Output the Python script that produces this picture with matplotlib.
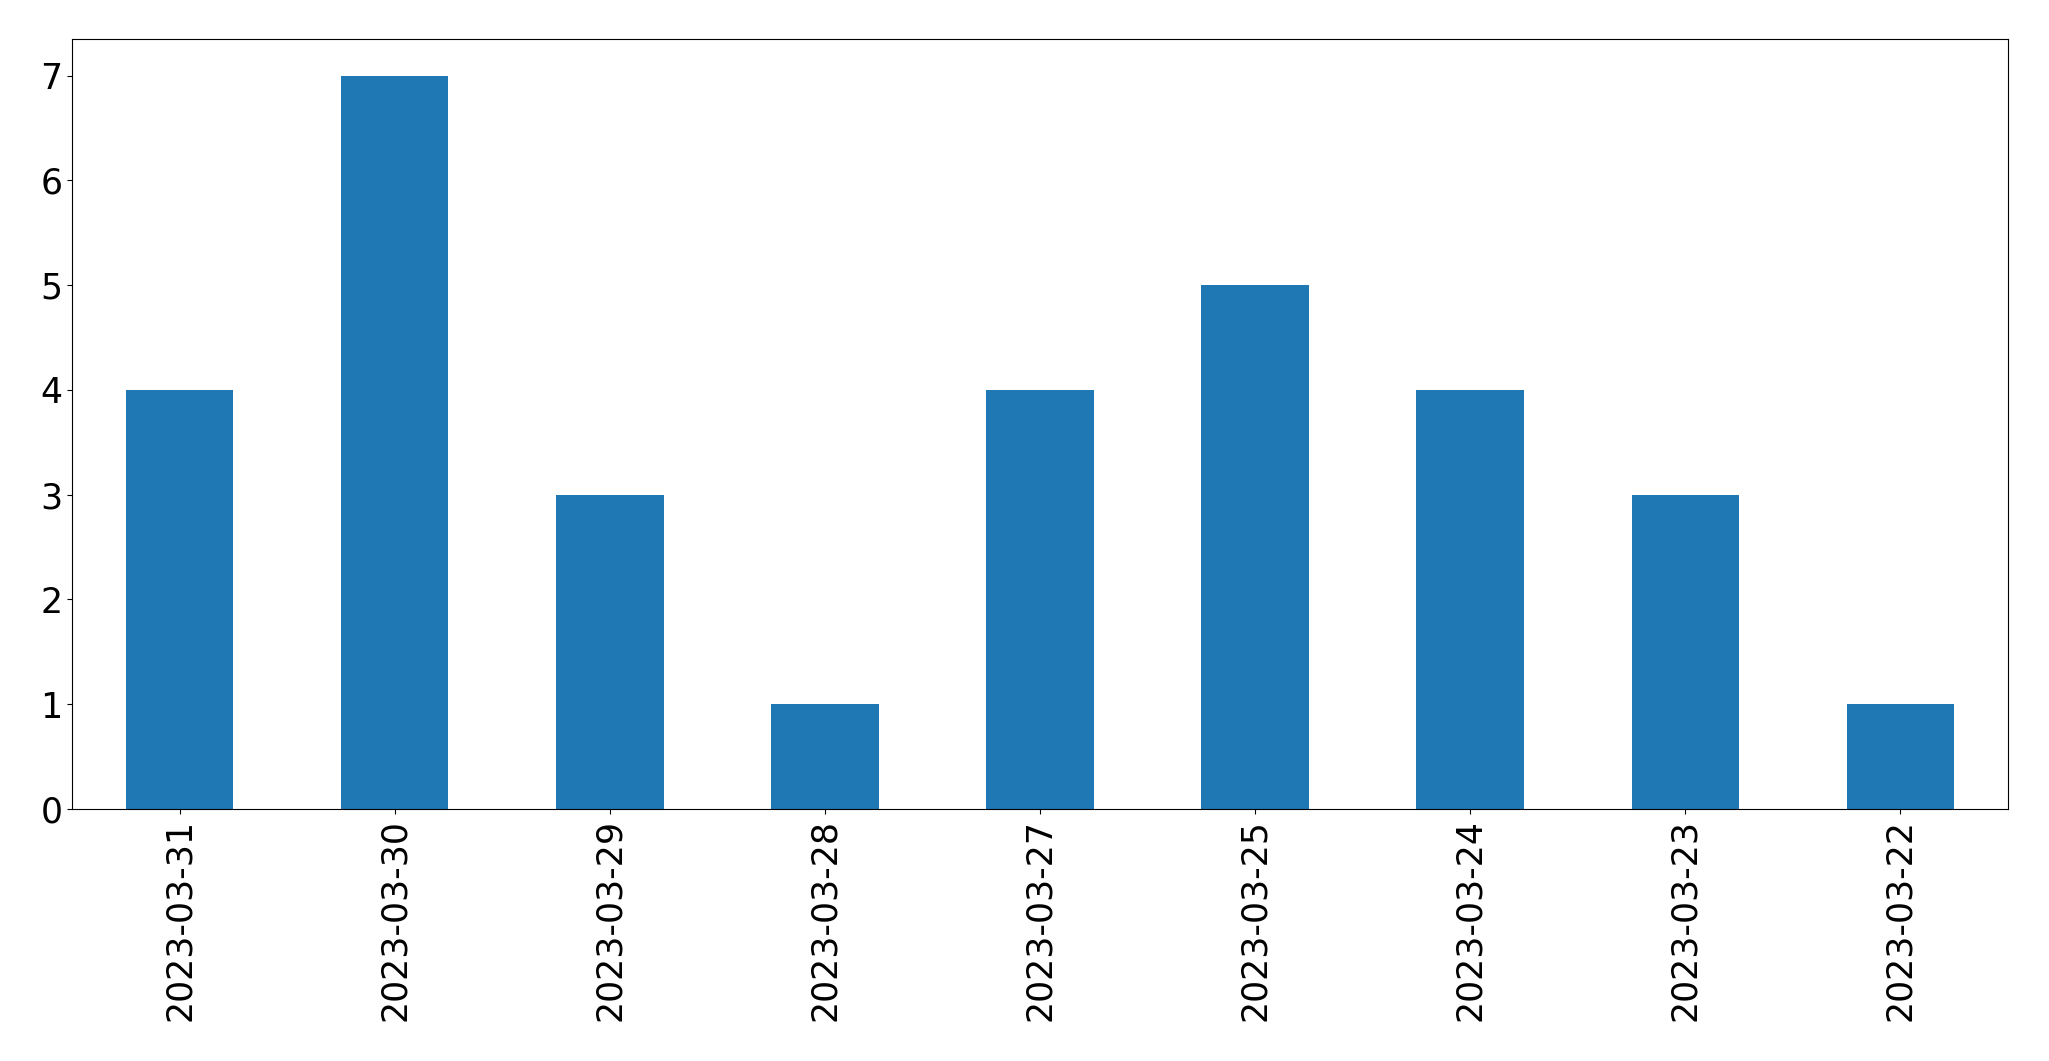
import matplotlib
matplotlib.use("Agg")
import matplotlib.pyplot as plt
import pandas as pd

dates = ['2023-03-31', '2023-03-30', '2023-03-29', '2023-03-28', '2023-03-27',
         '2023-03-25', '2023-03-24', '2023-03-23', '2023-03-22']
counts = [4, 7, 3, 1, 4, 5, 4, 3, 1]

s = pd.Series(counts, index=dates)

fig = plt.figure(figsize=(20.49, 10.61), dpi=100)
ax = fig.add_axes([72 / 2049, 1 - 809 / 1061, (2008 - 72) / 2049, (809 - 39) / 1061])
s.plot(kind='bar', ax=ax, color='#1f77b4', fontsize=25)
ax.tick_params(axis='x', labelsize=25)
ax.tick_params(axis='y', labelsize=25)
fig.savefig('out.png', dpi=100)
